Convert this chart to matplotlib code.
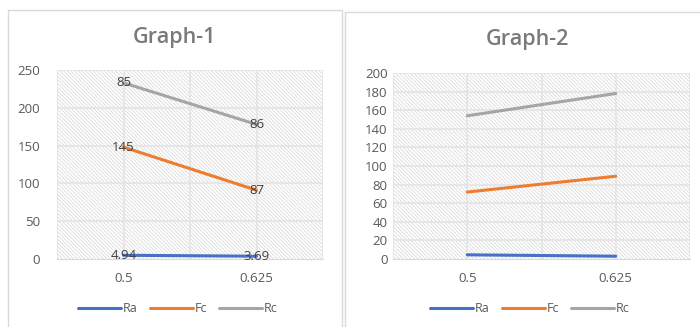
import matplotlib
matplotlib.use("Agg")
import matplotlib.pyplot as plt
from matplotlib.patches import Rectangle

categories = ["0.5", "0.625"]

g1_ra = [4.94, 3.69]
g1_fc = [148, 91]
g1_rc = [233, 178]
g1_ra_labels = ["4.94", "3.69"]
g1_fc_labels = ["145", "87"]
g1_rc_labels = ["85", "86"]

g2_ra = [4.5, 3.0]
g2_fc = [72, 89]
g2_rc = [154, 178]

series_names = ["Ra", "Fc", "Rc"]
colors = ["#4472C4", "#ED7D31", "#A5A5A5"]

plt.rcParams['font.family'] = ['Open Sans', 'DejaVu Sans']
plt.rcParams['hatch.color'] = '#d4d4d4'
plt.rcParams['hatch.linewidth'] = 0.5

fig = plt.figure(figsize=(7.0, 3.27), dpi=100)
fig.patch.set_facecolor('white')

# panel borders
fig.patches.append(Rectangle((8/700, -0.01), (342-8)/700, 1 - 10/327 + 0.01,
                             transform=fig.transFigure, fill=False,
                             edgecolor='#d9d9d9', linewidth=1.0))
fig.patches.append(Rectangle((345/700, -0.01), (700-345)/700 + 0.01, 1 - 12/327 + 0.01,
                             transform=fig.transFigure, fill=False,
                             edgecolor='#d9d9d9', linewidth=1.0))

def setup(ax, title, ymax, ystep, title_pos):
    x = list(range(len(categories)))
    ax.set_xlim(-0.5, len(categories) - 0.5)
    ax.set_ylim(0, ymax)
    ax.set_yticks(range(0, ymax + 1, ystep))
    ax.set_xticks(x)
    ax.set_xticklabels(categories)
    ax.patch.set_facecolor('white')
    ax.patch.set_hatch('\\' * 9)
    ax.patch.set_edgecolor('#d4d4d4')
    for s in ['top', 'right', 'left']:
        ax.spines[s].set_visible(False)
    ax.spines['bottom'].set_color('#d9d9d9')
    ax.tick_params(axis='both', length=0, labelsize=9.5, labelcolor='#595959')
    ax.tick_params(axis='x', pad=9)
    ax.grid(False)
    for yv in range(ystep, ymax + 1, ystep):
        ax.axhline(yv, color='#e4e4e4', linewidth=1.2, zorder=1)
    for xv in [-0.5, 0, 0.5, 1, 1.5]:
        ax.axvline(xv, color='#e4e4e4', linewidth=1.2, zorder=1)
    fig.text(title_pos[0], title_pos[1], title, ha='center', va='center',
             fontsize=15.5, color='#7a7a7a', fontweight='semibold')
    return x

# Graph 1
ax1 = fig.add_axes([57/700, 1 - 259/327, (323-57)/700, (259-70)/327])
x = setup(ax1, "Graph-1", 250, 50, (175/700, 1 - 37/327))
ax1.tick_params(axis='y', pad=12)
lines = []
for vals, c, n in zip([g1_ra, g1_fc, g1_rc], colors, series_names):
    l, = ax1.plot(x, vals, color=c, linewidth=2.2, label=n, zorder=3, solid_capstyle='round')
    lines.append(l)
for vals, labs in zip([g1_ra, g1_fc, g1_rc], [g1_ra_labels, g1_fc_labels, g1_rc_labels]):
    for xi, v, t in zip(x, vals, labs):
        ax1.text(xi, v, t, ha='center', va='center', fontsize=9.5, color='#404040', zorder=4)
ax1.legend(handles=lines, loc='center', bbox_to_anchor=(178/700, 1 - 309/327),
           bbox_transform=fig.transFigure, ncol=3, frameon=False, fontsize=9,
           handlelength=3.4, handletextpad=0.15, columnspacing=1.0, labelcolor='#595959')

# Graph 2
ax2 = fig.add_axes([393/700, 1 - 259/327, (690-393)/700, (259-73)/327])
x = setup(ax2, "Graph-2", 200, 20, (527/700, 1 - 40/327))
ax2.tick_params(axis='y', pad=4)
lines = []
for vals, c, n in zip([g2_ra, g2_fc, g2_rc], colors, series_names):
    l, = ax2.plot(x, vals, color=c, linewidth=2.2, label=n, zorder=3, solid_capstyle='round')
    lines.append(l)
ax2.legend(handles=lines, loc='center', bbox_to_anchor=(530/700, 1 - 309/327),
           bbox_transform=fig.transFigure, ncol=3, frameon=False, fontsize=9,
           handlelength=3.4, handletextpad=0.15, columnspacing=1.0, labelcolor='#595959')

fig.savefig("out.png", dpi=100)
